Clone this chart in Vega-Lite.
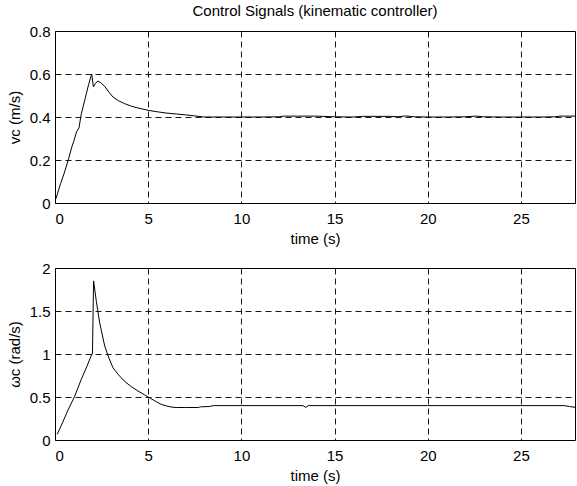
{
  "$schema": "https://vega.github.io/schema/vega-lite/v6.json",
  "background": "white",
  "padding": {"left": 6, "top": 3, "right": 0, "bottom": 0},
  "spacing": 13,
  "datasets": {
    "vc": [
      {"t": 0.05, "v": 0.02}, {"t": 0.3, "v": 0.09}, {"t": 0.5, "v": 0.14}, {"t": 0.73, "v": 0.206},
      {"t": 0.9, "v": 0.26}, {"t": 1.02, "v": 0.29}, {"t": 1.15, "v": 0.33}, {"t": 1.29, "v": 0.35},
      {"t": 1.4, "v": 0.41}, {"t": 1.6, "v": 0.48}, {"t": 1.8, "v": 0.55}, {"t": 1.97, "v": 0.6},
      {"t": 2.06, "v": 0.54}, {"t": 2.15, "v": 0.555}, {"t": 2.3, "v": 0.567}, {"t": 2.45, "v": 0.56},
      {"t": 2.66, "v": 0.543}, {"t": 2.9, "v": 0.515}, {"t": 3.11, "v": 0.493}, {"t": 3.4, "v": 0.476},
      {"t": 3.74, "v": 0.462}, {"t": 4.1, "v": 0.45}, {"t": 4.45, "v": 0.442}, {"t": 5.0, "v": 0.431},
      {"t": 5.43, "v": 0.425}, {"t": 6.0, "v": 0.418}, {"t": 6.5, "v": 0.414}, {"t": 7.0, "v": 0.41},
      {"t": 7.5, "v": 0.405}, {"t": 8.0, "v": 0.4}, {"t": 9.0, "v": 0.4}, {"t": 10.0, "v": 0.4},
      {"t": 11.0, "v": 0.4}, {"t": 12.0, "v": 0.401}, {"t": 12.3, "v": 0.404}, {"t": 13.0, "v": 0.404},
      {"t": 14.0, "v": 0.404}, {"t": 15.0, "v": 0.401}, {"t": 16.0, "v": 0.4}, {"t": 16.5, "v": 0.403},
      {"t": 17.0, "v": 0.403}, {"t": 18.0, "v": 0.403}, {"t": 18.4, "v": 0.401}, {"t": 18.8, "v": 0.405},
      {"t": 19.3, "v": 0.401}, {"t": 20.0, "v": 0.4}, {"t": 21.0, "v": 0.4}, {"t": 22.0, "v": 0.401},
      {"t": 22.6, "v": 0.404}, {"t": 23.0, "v": 0.401}, {"t": 24.0, "v": 0.4}, {"t": 25.0, "v": 0.4},
      {"t": 26.0, "v": 0.4}, {"t": 26.8, "v": 0.401}, {"t": 27.1, "v": 0.404}, {"t": 27.9, "v": 0.404}
    ],
    "wc": [
      {"t": 0.12, "w": 0.066}, {"t": 0.4, "w": 0.2}, {"t": 0.7, "w": 0.35}, {"t": 1.06, "w": 0.51},
      {"t": 1.4, "w": 0.7}, {"t": 1.7, "w": 0.85}, {"t": 1.98, "w": 1.0}, {"t": 2.01, "w": 1.0},
      {"t": 2.07, "w": 1.85}, {"t": 2.22, "w": 1.61}, {"t": 2.4, "w": 1.36}, {"t": 2.67, "w": 1.09},
      {"t": 2.9, "w": 0.95}, {"t": 3.11, "w": 0.84}, {"t": 3.4, "w": 0.76}, {"t": 3.74, "w": 0.68},
      {"t": 4.1, "w": 0.62}, {"t": 4.45, "w": 0.57}, {"t": 5.0, "w": 0.5}, {"t": 5.4, "w": 0.45},
      {"t": 5.7, "w": 0.414}, {"t": 6.0, "w": 0.395}, {"t": 6.24, "w": 0.383}, {"t": 6.5, "w": 0.378},
      {"t": 7.0, "w": 0.378}, {"t": 7.7, "w": 0.378}, {"t": 7.8, "w": 0.385}, {"t": 8.3, "w": 0.39},
      {"t": 8.5, "w": 0.4}, {"t": 10.0, "w": 0.4}, {"t": 13.3, "w": 0.4}, {"t": 13.45, "w": 0.38},
      {"t": 13.6, "w": 0.4}, {"t": 20.0, "w": 0.4}, {"t": 25.0, "w": 0.4}, {"t": 27.3, "w": 0.4},
      {"t": 27.6, "w": 0.39}, {"t": 27.9, "w": 0.38}
    ]
  },
  "vconcat": [
    {
      "title": {"text": "Control Signals (kinematic controller)"},
      "width": 520,
      "height": 172,
      "data": {"name": "vc"},
      "mark": {"type": "line", "color": "black", "strokeWidth": 1, "clip": true},
      "encoding": {
        "x": {"field": "t", "type": "quantitative", "scale": {"domain": [0, 27.9], "nice": false, "zero": false},
              "axis": {"values": [0, 5, 10, 15, 20, 25], "title": "time (s)", "format": "~g"}},
        "y": {"field": "v", "type": "quantitative", "scale": {"domain": [0, 0.8], "nice": false},
              "axis": {"values": [0, 0.2, 0.4, 0.6, 0.8], "title": "vc (m/s)", "format": "~g"}}
      }
    },
    {
      "width": 520,
      "height": 172,
      "data": {"name": "wc"},
      "mark": {"type": "line", "color": "black", "strokeWidth": 1, "clip": true},
      "encoding": {
        "x": {"field": "t", "type": "quantitative", "scale": {"domain": [0, 27.9], "nice": false, "zero": false},
              "axis": {"values": [0, 5, 10, 15, 20, 25], "title": "time (s)", "format": "~g"}},
        "y": {"field": "w", "type": "quantitative", "scale": {"domain": [0, 2], "nice": false},
              "axis": {"values": [0, 0.5, 1, 1.5, 2], "title": "ωc (rad/s)", "format": "~g"}}
      }
    }
  ],
  "config": {
    "font": "Liberation Sans",
    "view": {"stroke": "black", "strokeWidth": 1},
    "axis": {
      "labelFont": "Liberation Sans", "labelFontSize": 15, "labelColor": "black",
      "titleFont": "Liberation Sans", "titleFontSize": 15, "titleFontWeight": "normal", "titleColor": "black",
      "domain": false, "ticks": false,
      "gridColor": "black", "gridDash": [6, 4], "gridWidth": 1, "gridOpacity": 0.9
    },
    "axisX": {"labelPadding": 8, "titlePadding": 5},
    "axisY": {"labelPadding": 5, "titlePadding": 7},
    "title": {"font": "Liberation Sans", "fontSize": 15, "fontWeight": "normal", "color": "black", "offset": 5}
  }
}
